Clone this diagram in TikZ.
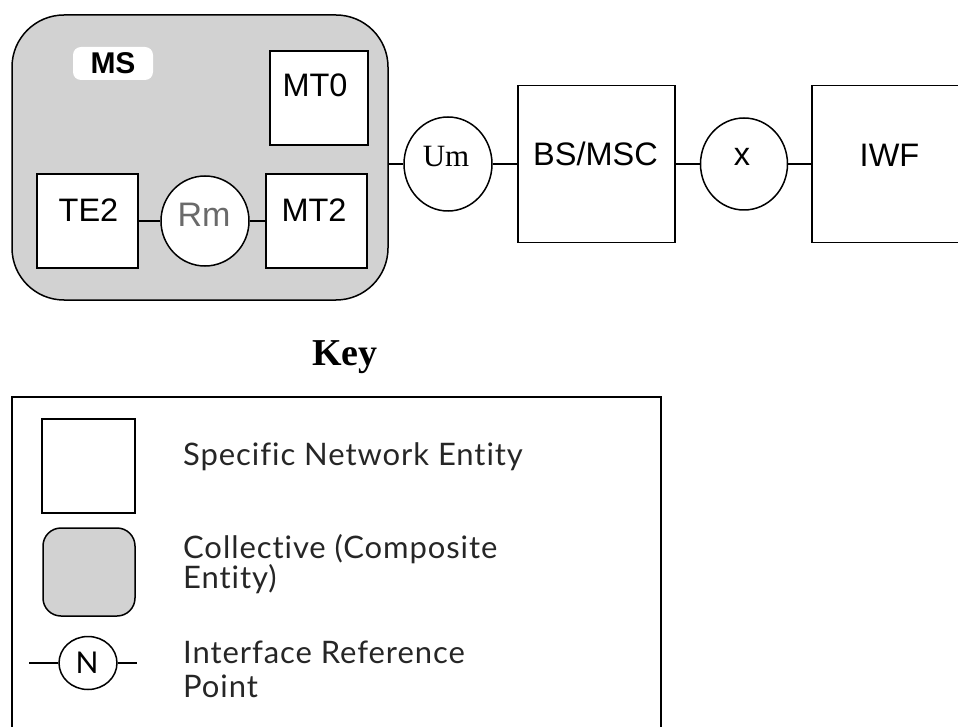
\documentclass[tikz,border=0pt]{standalone}
\usepackage{fontspec}
\setmainfont{Liberation Sans}
\newfontfamily\serifface{Liberation Serif}
\newfontfamily\legendface[Ligatures=NoCommon, LetterSpace=3]{Lato}
\usetikzlibrary{shapes.geometric}
\definecolor{compfill}{HTML}{D2D2D2}
\definecolor{rmgray}{HTML}{6A6A6A}
\definecolor{legendink}{HTML}{262626}
\tikzset{
  wire/.style={line width=1.5pt, black},
  entity/.style={draw, wire, rectangle, fill=white, inner sep=0pt},
  collective/.style={draw, wire, rectangle, fill=compfill, inner sep=0pt},
  refpoint/.style={draw, wire, ellipse, fill=white, inner sep=0pt},
  boxtext/.style={anchor=base, inner sep=0pt, font=\fontsize{32.5}{32.5}\selectfont},
  legendtext/.style={anchor=base west, inner sep=0pt, text=legendink,
    font=\legendface\fontsize{31}{31}\selectfont},
}
\begin{document}
\begin{tikzpicture}[x=1pt,y=-1pt]
\useasboundingbox (0,0) rectangle (958,727);
\clip (0,0) rectangle (958,727);

% ---- mobile station (composite entity) ----
\node[collective, rounded corners=52pt, minimum width=376pt, minimum height=285pt] (ms) at (200,157.5) {};
\node[fill=white, rounded corners=8pt, inner sep=0pt, minimum width=80pt, minimum height=33pt,
      font=\bfseries\fontsize{30}{30}\selectfont] (mstag) at (113,63.5) {MS};

\node[entity, minimum width=98pt, minimum height=94pt] (mt0) at (319,98) {};
\node[boxtext] (mt0text) at (315,97) {MT0};

\node[entity, minimum width=101pt, minimum height=94pt] (te2) at (87.5,221) {};
\node[boxtext] (te2text) at (88.5,222) {TE2};

\node[entity, minimum width=101pt, minimum height=94pt] (mt2) at (316.5,221) {};
\node[boxtext] (mt2text) at (314,222) {MT2};

\node[refpoint, minimum width=88pt, minimum height=90pt] (rm) at (205,221) {};
\node[boxtext, text=rmgray, font=\fontsize{34}{34}\selectfont] (rmtext) at (204,227) {Rm};

\draw[wire] (te2) -- (rm);
\draw[wire] (rm) -- (mt2);

% ---- network side ----
\node[refpoint, minimum width=88pt, minimum height=94pt] (um) at (448,164) {};
\node[boxtext, font=\serifface\fontsize{31}{31}\selectfont] (umtext) at (446,167) {Um};

\node[entity, minimum width=157pt, minimum height=157pt] (bsmsc) at (596.5,164) {};
\node[boxtext] (bsmsctext) at (595.5,166) {BS/MSC};

\node[refpoint, minimum width=87pt, minimum height=92pt] (xref) at (744,164) {};
\node[boxtext] (xtext) at (742,166) {x};

\node[entity, minimum width=155pt, minimum height=157pt] (iwf) at (889.5,164) {};
\node[boxtext] (iwftext) at (889.5,167) {IWF};

\draw[wire] (ms.east |- um.west) -- (um.west);
\draw[wire] (um) -- (bsmsc);
\draw[wire] (bsmsc) -- (xref);
\draw[wire] (xref) -- (iwf);

% ---- key ----
\node[anchor=base, inner sep=0pt, font=\serifface\bfseries\fontsize{38}{38}\selectfont] (keytitle) at (345,365) {Key};

\node[draw, wire, rectangle, inner sep=0pt, minimum width=649pt, minimum height=345pt] (keybox) at (336.5,569.5) {};

\node[entity, minimum width=93pt, minimum height=94pt] (keyentity) at (88.5,466) {};
\node[legendtext] (keyentitytext) at (183,465) {Specific Network Entity};

\node[collective, rounded corners=18pt, minimum width=92pt, minimum height=88pt] (keycomposite) at (89,572) {};
\node[legendtext] (keycompositetext1) at (183,558) {Collective (Composite};
\node[legendtext] (keycompositetext2) at (183,588) {Entity)};

\node[refpoint, minimum width=58pt, minimum height=53pt] (keyref) at (88,663) {};
\node[boxtext, font=\legendface\fontsize{30}{30}\selectfont] (keyreftext) at (87,673) {N};
\coordinate (keyrefleft) at (29,663);
\coordinate (keyrefright) at (137,663);
\draw[wire] (keyrefleft) -- (keyref.west);
\draw[wire] (keyref.east) -- (keyrefright);
\node[legendtext] (keyreftext1) at (183,663) {Interface Reference};
\node[legendtext] (keyreftext2) at (183,697) {Point};
\end{tikzpicture}
\end{document}
